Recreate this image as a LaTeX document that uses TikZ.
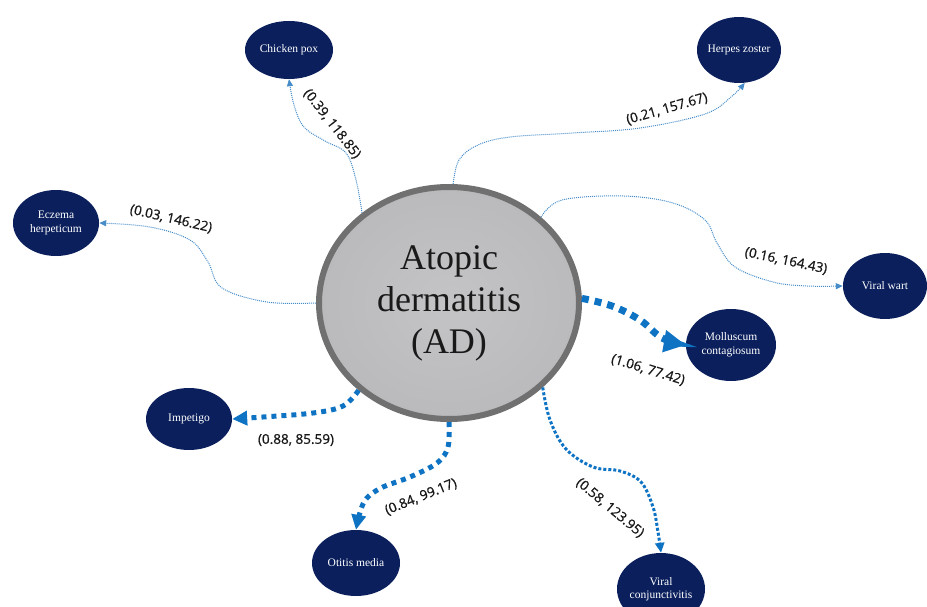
\documentclass[tikz,border=0pt]{standalone}
\usepackage{fontspec}
\setmainfont{Liberation Serif}
\newfontfamily\lblfont[FakeBold=0.9]{Open Sans}
\usetikzlibrary{shapes.geometric,arrows.meta}
\definecolor{navy}{RGB}{10,31,92}
\definecolor{thinblue}{RGB}{70,140,200}
\definecolor{thickblue}{RGB}{15,115,195}
\definecolor{adfill}{RGB}{186,186,188}
\definecolor{adlight}{RGB}{196,196,198}
\definecolor{adedge}{RGB}{112,112,112}
\begin{document}
\begin{tikzpicture}[x=1pt,y=-1pt,
  dis/.style={ellipse, fill=navy, draw=none, inner sep=0pt, minimum width=86pt, minimum height=66pt},
  dtext/.style={text=white, font=\fontsize{11.5}{13.5}\selectfont, align=center, inner sep=0pt},
  lbl/.style={font=\lblfont\fontsize{13.5}{16}\selectfont, text=black!90, inner sep=1pt},
  thinlink/.style={draw=thinblue, line width=1pt, dash pattern=on 1pt off 1pt, -{Triangle[length=7pt,width=6pt]}},
  thicklink/.style={draw=thickblue, line width=5pt, dash pattern=on 5pt off 5pt, -{Triangle[length=15pt,width=14pt]}},
  biglink/.style={draw=thickblue, line width=7pt, dash pattern=on 7pt off 6pt, -{Triangle[length=22pt,width=21pt]}},
  midlink/.style={draw=thickblue, line width=3pt, dash pattern=on 3pt off 2pt, -{Triangle[length=10pt,width=9pt]}}
]
\useasboundingbox (0,0) rectangle (927,607);

% central node
\node[ellipse, inner color=adlight, outer color=adfill, draw=adedge, line width=6pt, minimum width=260pt, minimum height=232pt, inner sep=0pt,
      align=center, font=\fontsize{36}{42}\selectfont, text=black!90] (ad) at (449,303) {Atopic\\dermatitis\\(AD)};

% disease nodes
\node[dis, minimum width=88pt, minimum height=58pt, label={[dtext]center:Chicken pox}] (cp) at (289,50) {};
\node[dis, minimum width=84pt, minimum height=66pt, label={[dtext]center:Herpes zoster}] (hz) at (739,50) {};
\node[dis, label={[dtext]center:Eczema\\herpeticum}] (eh) at (56,223) {};
\node[dis, minimum width=84pt, label={[dtext]center:Viral wart}] (vw) at (885,286) {};
\node[dis, minimum width=90pt, minimum height=72pt, label={[dtext]center:Molluscum\\contagiosum}] (mc) at (731,345) {};
\node[dis, minimum height=62pt, label={[dtext]center:Impetigo}] (im) at (189,419) {};
\node[dis, minimum width=88pt, label={[dtext]center:Otitis media}] (om) at (356,563) {};
\node[dis, minimum width=88pt, minimum height=72pt, label={[dtext]center:Viral\\conjunctivitis}] (vc) at (661,589) {};

% connectors
\draw[thinlink] plot[smooth, tension=0.6] coordinates {(ad.134) (356,180) (346,153) (325,141) (304,127) (294,105) (cp.south)};
\draw[thinlink] plot[smooth, tension=0.6] coordinates {(ad.88) (459,160) (478,145) (510,137) (573,133) (640,128) (705,114) (731,97) (hz.-80)};
\draw[thinlink] plot[smooth, tension=0.6] coordinates {(ad.180) (267,302) (222,288) (208,262) (190,240) (150,227) (eh.east)};
\draw[thinlink] plot[smooth, tension=0.6] coordinates {(ad.43) (562,200) (623,196) (673,203) (705,220) (717,243) (735,267) (773,282) (807,286) (vw.west)};
\draw[biglink] plot[smooth, tension=0.6] coordinates {(ad.2) (612,306) (640,320) (662,338) (mc.west)};
\draw[thicklink] plot[smooth, tension=0.6] coordinates {(ad.-136) (343,406) (313,413) (263,417) (im.east)};
\draw[thicklink] plot[smooth, tension=0.6] coordinates {(ad.-90) (448,447) (437,463) (410,477) (381,488) (364,502) (om.north)};
\draw[midlink] plot[smooth, tension=0.6] coordinates {(ad.-42) (550,420) (566,449) (593,467) (620,471) (641,482) (653,507) (658,532) (vc.north)};

% labels
\node[lbl, rotate=-52] (l1) at (332,124) {(0.39, 118.85)};
\node[lbl, rotate=16] (l2) at (667,109) {(0.21, 157.67)};
\node[lbl, rotate=-13] (l3) at (171,219) {(0.03, 146.22)};
\node[lbl, rotate=-12] (l4) at (786,261) {(0.16, 164.43)};
\node[lbl, rotate=-17] (l5) at (648,370) {(1.06, 77.42)};
\node[lbl] (l6) at (296,440) {(0.88, 85.59)};
\node[lbl, rotate=22] (l7) at (421,497) {(0.84, 99.17)};
\node[lbl, rotate=-40] (l8) at (610,508) {(0.58, 123.95)};
\end{tikzpicture}
\end{document}
